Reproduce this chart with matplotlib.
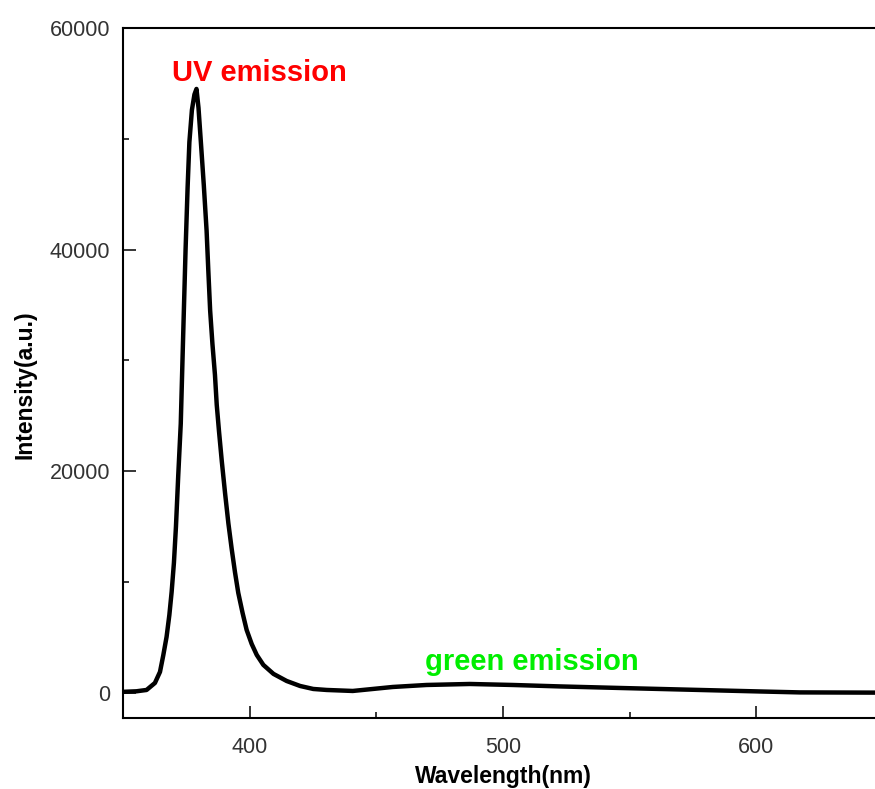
import matplotlib.pyplot as plt
from matplotlib.ticker import MultipleLocator

# PL spectrum
wavelength = [350.0, 355.3, 359.3, 362.6, 364.6, 365.9, 367.2, 368.3, 369.2, 370.1,
              370.9, 371.8, 372.8, 373.3, 373.9, 374.7, 375.5, 376.2, 377.2, 378.2,
              379.0, 379.8, 380.8, 381.9, 383.0, 383.7, 384.4, 385.3, 386.3, 387.0,
              387.9, 389.0, 390.3, 391.6, 392.9, 394.2, 395.5, 397.2, 398.8, 400.8,
              402.8, 405.4, 409.4, 414.6, 419.9, 425.1, 430.4, 440.7, 456.5, 469.8,
              486.9, 503.9, 522.4, 546.0, 577.6, 601.3, 617.1, 646.7]
intensity = [100, 150, 270, 900, 1900, 3400, 5060, 7040, 9120, 11740,
             15000, 19600, 24300, 28500, 33500, 40000, 45600, 49700, 52600, 54000,
             54500, 52800, 49500, 45800, 41700, 38000, 34500, 31500, 28700, 26000,
             23600, 20900, 18000, 15300, 13000, 10900, 9030, 7220, 5690, 4420,
             3430, 2530, 1720, 1080, 630, 360, 270, 180, 540, 720,
             810, 720, 590, 450, 270, 135, 50, 30]

xticks = [400, 500, 600]
yticks = [0, 20000, 40000, 60000]

plt.rcParams['font.family'] = ['Liberation Sans', 'DejaVu Sans']

fig = plt.figure(figsize=(8.75, 7.89), dpi=100)
ax = fig.add_axes([123 / 875, 71 / 789, 760 / 875, 690 / 789])

ax.plot(wavelength, intensity, color='black', lw=3.2)

ax.set_xlim(350, 650)
ax.set_ylim(-2260, 60000)
ax.set_xticks(xticks)
ax.set_yticks(yticks)
ax.xaxis.set_minor_locator(MultipleLocator(50))
ax.yaxis.set_minor_locator(MultipleLocator(10000))
ax.tick_params(which='both', direction='in', top=False, right=False,
               width=1.1, labelsize=15.5, labelcolor='#333333')
ax.tick_params(which='major', length=9)
ax.tick_params(which='minor', length=4.5)
ax.tick_params(axis='x', pad=14)
ax.tick_params(axis='y', pad=9)
for s in ax.spines.values():
    s.set_linewidth(1.5)
ax.spines['right'].set_visible(False)

ax.set_xlabel('Wavelength(nm)', fontsize=16.5, fontweight='bold', labelpad=5)
ax.set_ylabel('Intensity(a.u.)', fontsize=16.5, fontweight='bold')
ax.yaxis.set_label_coords(-0.114, 0.483)

ax.text(369.3, 55980, 'UV emission', color='#ff0000', fontsize=21,
        fontweight='bold', ha='left', va='center')
ax.text(469.2, 2800, 'green emission', color='#00ee00', fontsize=21,
        fontweight='bold', ha='left', va='center')

fig.savefig('out.png', dpi=100)
